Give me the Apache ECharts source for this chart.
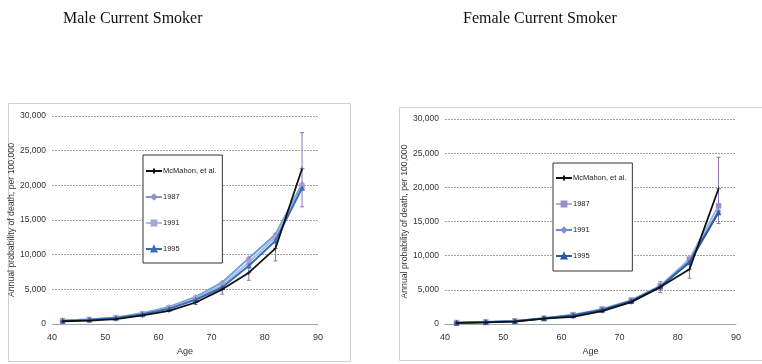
<!DOCTYPE html>
<html><head><meta charset="utf-8">
<script src="https://cdn.jsdelivr.net/npm/echarts@6/dist/echarts.min.js"></script>
<style>html,body{margin:0;padding:0;background:#fff}#c{width:762px;height:364px}</style>
</head><body><div id="c"></div>
<script>
const ages = [42, 47, 52, 57, 62, 67, 72, 77, 82, 87];
const xTicks = [40, 50, 60, 70, 80, 90];
const yTicks = [0, 5000, 10000, 15000, 20000, 25000, 30000];
const seriesNames = ['McMahon, et al.', '1987', '1991', '1995'];

// Male current smoker
const maleMcMahon = [400, 500, 700, 1250, 1900, 3100, 5000, 7400, 10900, 22400];
const male1987 = [500, 650, 950, 1550, 2450, 3900, 6000, 9500, 12900, 20200];
const male1991 = [500, 650, 900, 1450, 2300, 3700, 5600, 8900, 12500, 19800];
const male1995 = [450, 600, 850, 1400, 2200, 3500, 5300, 8400, 12000, 19600];
const maleErrAges = [67, 72, 77, 82, 87];
const maleErrLow = [2800, 4300, 6300, 9100, 16900];
const maleErrHigh = [3400, 5800, 8600, 12700, 27600];

// Female current smoker
const femMcMahon = [150, 250, 350, 800, 1050, 1900, 3200, 5400, 8000, 19800];
const fem1987 = [200, 300, 450, 850, 1350, 2200, 3500, 5600, 9500, 17300];
const fem1991 = [200, 300, 450, 850, 1300, 2100, 3400, 5500, 9200, 16500];
const fem1995 = [150, 250, 400, 800, 1250, 2050, 3350, 5450, 9000, 16300];
const femErrAges = [72, 77, 82, 87];
const femErrLow = [3000, 4600, 6700, 14700];
const femErrHigh = [3700, 6200, 9400, 24400];

const pairs = (ys) => ages.map((a, i) => [a, ys[i]]);
const errData = (xs, lo, hi) => xs.map((a, i) => [a, lo[i], hi[i]]);

const labelFont = 'Liberation Sans Narrow, Liberation Sans, sans-serif';
const errColor = '#8f74b5';

function xAxis(gi) {
  return {
    type: 'value', gridIndex: gi, min: 40, max: 90, interval: 10,
    name: 'Age', nameLocation: 'middle', nameGap: 20,
    nameTextStyle: {fontSize: 9, color: '#333', fontFamily: labelFont},
    axisLine: {show: true, lineStyle: {color: '#a6a6a6', width: 1}},
    axisTick: {show: false},
    axisLabel: {fontSize: 9, color: '#333', margin: 9, fontFamily: labelFont},
    splitLine: {show: false}
  };
}
function yAxis(gi) {
  return {
    type: 'value', gridIndex: gi, min: 0, max: 30000, interval: 5000,
    name: 'Annual probability of death, per 100,000', nameLocation: 'middle', nameGap: 30,
    nameTextStyle: {fontSize: 8.7, color: '#333', fontFamily: labelFont},
    axisLine: {show: false}, axisTick: {show: false},
    axisLabel: {fontSize: 8.5, color: '#333', margin: 6, fontFamily: labelFont,
      formatter: v => v.toLocaleString('en-US')},
    splitLine: {show: true, lineStyle: {color: '#a0a0a0', type: [2, 1], width: 1}}
  };
}
function errSeries(gi, data) {
  return {
    type: 'custom', xAxisIndex: gi, yAxisIndex: gi, z: 1, silent: true,
    data: data,
    renderItem: (params, api) => {
      const lo = api.coord([api.value(0), api.value(1)]);
      const hi = api.coord([api.value(0), api.value(2)]);
      const style = {stroke: errColor, lineWidth: 1};
      return {type: 'group', children: [
        {type: 'line', shape: {x1: lo[0], y1: lo[1], x2: hi[0], y2: hi[1]}, style},
        {type: 'line', shape: {x1: lo[0] - 2, y1: lo[1], x2: lo[0] + 2, y2: lo[1]}, style},
        {type: 'line', shape: {x1: hi[0] - 2, y1: hi[1], x2: hi[0] + 2, y2: hi[1]}, style}
      ]};
    }
  };
}
function line(gi, name, data, color, symbol, width, z, mcolor) {
  return {
    type: 'line', name: name, xAxisIndex: gi, yAxisIndex: gi, data: pairs(data),
    symbol: symbol, symbolSize: 5, z: z,
    lineStyle: {color: color, width: width},
    itemStyle: {color: mcolor || color, borderColor: mcolor || color, borderWidth: 0.5},
    emphasis: {disabled: true}
  };
}
const femName = n => n + ' ';

const option = {
  animation: false,
  textStyle: {fontFamily: labelFont},
  title: [
    {text: 'Male Current Smoker', left: 58, top: 6,
     textStyle: {fontFamily: 'Liberation Serif, serif', fontWeight: 'normal', fontSize: 16, color: '#111'}},
    {text: 'Female Current Smoker', left: 458, top: 6,
     textStyle: {fontFamily: 'Liberation Serif, serif', fontWeight: 'normal', fontSize: 16, color: '#111'}}
  ],
  graphic: [
    {type: 'rect', shape: {x: 8.5, y: 103.5, width: 342, height: 258}, style: {fill: 'none', stroke: '#cfcfcf', lineWidth: 1}, z: -1},
    {type: 'rect', shape: {x: 399.5, y: 107.5, width: 380, height: 253}, style: {fill: 'none', stroke: '#cfcfcf', lineWidth: 1}, z: -1}
  ],
  legend: [
    {data: seriesNames, orient: 'vertical', left: 143, top: 155, width: 62,
     padding: [12, 6, 10, 2], itemGap: 18, itemWidth: 16, itemHeight: 6,
     borderColor: '#333', borderWidth: 1, backgroundColor: '#fff',
     textStyle: {fontSize: 7.5, color: '#222', padding: [0, 0, 0, -4]}},
    {data: seriesNames.map(femName), orient: 'vertical', left: 553, top: 163, width: 68,
     padding: [11, 6, 11, 2], itemGap: 18, itemWidth: 16, itemHeight: 6,
     formatter: n => n.trim(),
     borderColor: '#333', borderWidth: 1, backgroundColor: '#fff',
     textStyle: {fontSize: 7.5, color: '#222', padding: [0, 0, 0, -4]}}
  ],
  grid: [
    {left: 52, right: 444, top: 116, bottom: 40},
    {left: 445, right: 26, top: 119, bottom: 40}
  ],
  xAxis: [xAxis(0), xAxis(1)],
  yAxis: [yAxis(0), yAxis(1)],
  series: [
    errSeries(0, errData(maleErrAges, maleErrLow, maleErrHigh)),
    line(0, seriesNames[0], maleMcMahon, '#111111', 'path://M0,-5L0,5M-5,0L5,0', 1.8, 5, '#111111'),
    line(0, seriesNames[1], male1987, '#6d9fdc', 'diamond', 2, 3, '#9a8cc6'),
    line(0, seriesNames[2], male1991, '#a2bde8', 'rect', 2, 3, '#a8a4d4'),
    line(0, seriesNames[3], male1995, '#3a6db5', 'triangle', 2, 4, '#3a6db5'),
    errSeries(1, errData(femErrAges, femErrLow, femErrHigh)),
    line(1, femName(seriesNames[0]), femMcMahon, '#111111', 'path://M0,-5L0,5M-5,0L5,0', 1.8, 5, '#111111'),
    line(1, femName(seriesNames[1]), fem1987, '#9dbae6', 'rect', 2, 3, '#9a8cc6'),
    line(1, femName(seriesNames[2]), fem1991, '#5b90d8', 'diamond', 2, 3, '#7f8fd0'),
    line(1, femName(seriesNames[3]), fem1995, '#2c5b9e', 'triangle', 2, 4, '#2c5b9e')
  ]
};
echarts.init(document.getElementById('c'), null, {renderer: 'canvas'}).setOption(option);
</script></body></html>
